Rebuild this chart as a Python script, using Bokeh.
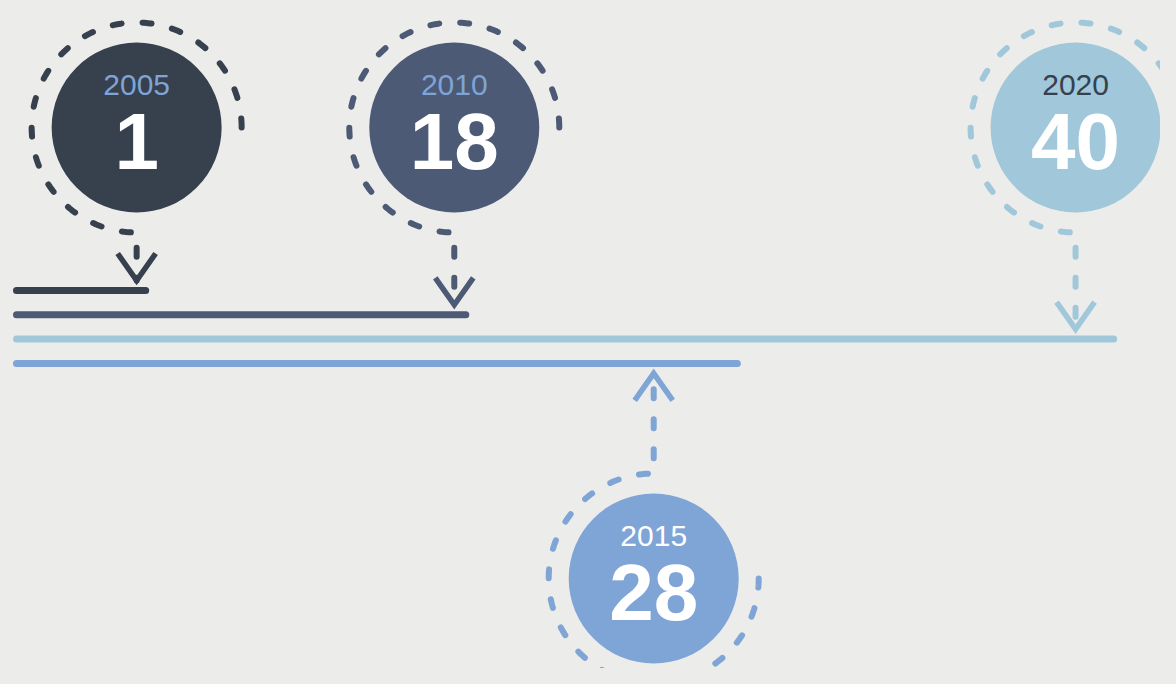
import numpy as np
from bokeh.plotting import figure
from bokeh.models import Range1d
from bokeh.core.properties import value
from bokeh.embed import file_html
from bokeh.resources import INLINE

# ---- data ----
years = ["2005", "2010", "2015", "2020"]
counts = [1, 18, 28, 40]
bar_length = [4.71, 16.38, 26.28, 40.0]
marker_at = [4.38, 15.96, 23.23, 38.61]
bar_row = [0, 1, 3, 2]                 # order of the bars, from the top
callout_side = ["above", "above", "below", "above"]
colors = ["#37404D", "#4C5A75", "#7FA4D6", "#A0C7DA"]
year_label_colors = ["#7FA4D6", "#7FA4D6", "#FFFFFF", "#37404D"]

# ---- layout (screen pixels) ----
W, H = 1160, 668
BG = "#ECECEA"
X0, X1 = -0.583, 41.706
ppu = W / (X1 - X0)                    # pixels per value unit
BAR_TOP = 378.0
ROW_GAP = 24.3
CY_ABOVE, CY_BELOW = 541.0, 90.0
R_FILL, R_RING = 85, 105
ARROW_GAP, ARM_DY, ARM_DX = 10.0, 27.0, 19.0

p = figure(width=W, height=H, output_backend="svg", toolbar_location=None,
           x_range=Range1d(X0, X1), y_range=Range1d(0, H),
           min_border=0, background_fill_color=BG, border_fill_color=BG)
p.outline_line_color = None
p.axis.visible = False
p.grid.visible = False

bar_y = [BAR_TOP - ROW_GAP * r for r in bar_row]

# bars
p.segment(x0=[0] * len(years), y0=bar_y, x1=bar_length, y1=bar_y,
          line_color=colors, line_width=7, line_cap="round")

ring_xs, ring_ys, arr_xs, arr_ys, cys = [], [], [], [], []
for mx, by, side in zip(marker_at, bar_y, callout_side):
    if side == "above":
        cy = CY_ABOVE
        t = np.linspace(0, 1.5 * np.pi, 240)
        vy = by + ARROW_GAP
        arm = vy + ARM_DY
    else:
        cy = CY_BELOW
        t = np.linspace(0, -1.5 * np.pi, 240)
        vy = by - ARROW_GAP
        arm = vy - ARM_DY
    xs = list(mx + R_RING * np.cos(t) / ppu) + [mx]
    ys = list(cy + R_RING * np.sin(t)) + [vy]
    ring_xs.append(xs)
    ring_ys.append(ys)
    arr_xs.append([mx - ARM_DX / ppu, mx, mx + ARM_DX / ppu])
    arr_ys.append([arm, vy, arm])
    cys.append(cy)

p.multi_line(ring_xs, ring_ys, line_color=colors, line_width=6,
             line_dash="9 21", line_cap="round")
p.multi_line(arr_xs, arr_ys, line_color=colors, line_width=5.5,
             line_join="miter", line_cap="butt")

p.circle(x=marker_at, y=cys, radius=R_FILL, radius_units="screen",
         fill_color=colors, line_color=None)

p.text(x=marker_at, y=[c + 43 for c in cys], text=years,
       text_align="center", text_baseline="alphabetic",
       text_font=value("Liberation Sans"), text_font_size="30px",
       text_color=year_label_colors)
p.text(x=marker_at, y=[c - 14 for c in cys], text=[str(v) for v in counts],
       text_align="center", text_baseline="alphabetic",
       text_font=value("Liberation Sans"), text_font_size="80px",
       text_font_style="bold", text_color="#FFFFFF")

html = file_html(p, INLINE)
html = html.replace("</head>", "<style>body{background:%s;}</style></head>" % BG, 1)
open("out.html", "w").write(html)
